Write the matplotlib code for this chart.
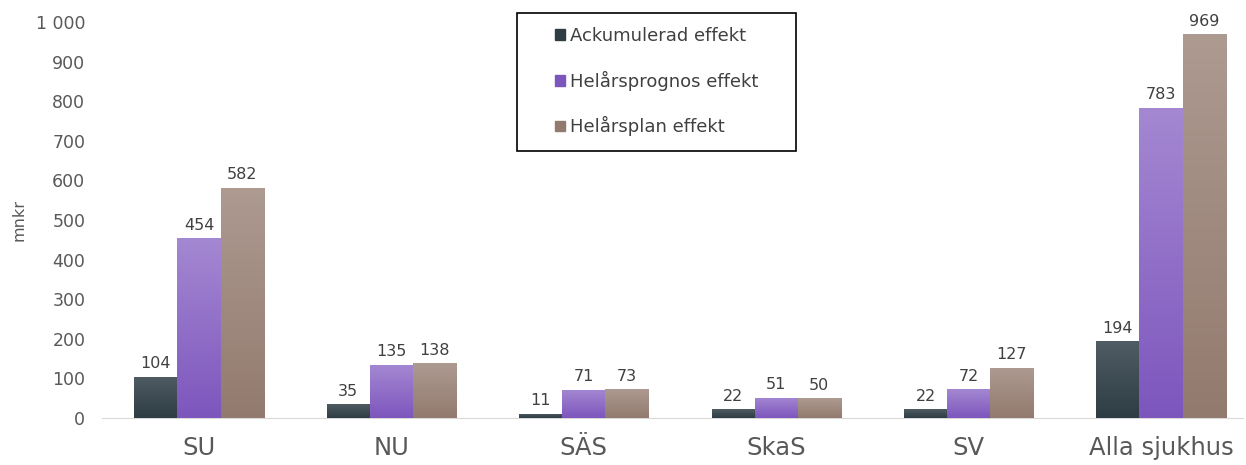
import numpy as np
import matplotlib.pyplot as plt
from matplotlib.colors import LinearSegmentedColormap
from matplotlib.patches import Rectangle

plt.rcParams['font.family'] = 'sans-serif'
plt.rcParams['font.sans-serif'] = ['DejaVu Sans']

sjukhus = ["SU", "NU", "SÄS", "SkaS", "SV", "Alla sjukhus"]
serier = ["Ackumulerad effekt", "Helårsprognos effekt", "Helårsplan effekt"]
ackumulerad = [104, 35, 11, 22, 22, 194]
prognos = [454, 135, 71, 51, 72, 783]
plan = [582, 138, 73, 50, 127, 969]

# (topp, botten) för varje serie
farger = [("#4f5c63", "#2e3c44"), ("#a488d2", "#7d56bd"), ("#ad9a91", "#937a6e")]

fig = plt.figure(figsize=(12.46, 4.65), dpi=100)
ax = fig.add_axes([102 / 1246, 47 / 465, 1141 / 1246, 396 / 465])

x = np.arange(len(sjukhus))
bredd = 0.224
grad = np.linspace(1, 0, 256).reshape(-1, 1)

for i, (namn, varden) in enumerate(zip(serier, [ackumulerad, prognos, plan])):
    pos = x + (i - 1) * bredd
    cmap = LinearSegmentedColormap.from_list(namn, [farger[i][1], farger[i][0]])
    staplar = ax.bar(pos, varden, bredd, color=farger[i][1], label=namn, zorder=2)
    for s, v in zip(staplar, varden):
        x0, w = s.get_x(), s.get_width()
        im = ax.imshow(grad, cmap=cmap, extent=[x0, x0 + w, 0, v], aspect="auto",
                       origin="upper", zorder=3, vmin=0, vmax=1)
        im.set_clip_path(s)
        ax.text(x0 + w / 2, v + 14, f"{v}", ha="center", va="bottom",
                fontsize=11.5, color="#404040", zorder=4)

ax.set_xlim(-0.504, 5.426)
ax.set_ylim(0, 1000)
ax.set_yticks(range(0, 1001, 100))
ax.set_yticklabels(["0"] + [f"{v}" for v in range(100, 1000, 100)] + ["1 000"])
ax.set_xticks(x)
ax.set_xticklabels(sjukhus, fontsize=17.5, color="#595959")
ax.tick_params(axis="y", length=0, labelsize=12.5, labelcolor="#595959", pad=12)
ax.tick_params(axis="x", length=0, pad=13)
for side in ["top", "right", "left"]:
    ax.spines[side].set_visible(False)
ax.spines["bottom"].set_color("#d9d9d9")
ax.set_ylabel("mnkr", fontsize=11.5, color="#595959", labelpad=7)

# legendram
fig.patches.append(Rectangle((517 / 1246, 1 - 151 / 465), 279 / 1246, 138 / 465,
                             transform=fig.transFigure, fill=False,
                             edgecolor="#000000", linewidth=1.2))
leg = ax.legend(loc="upper left", bbox_to_anchor=(555 / 1246, 1 - 27 / 465),
                bbox_transform=fig.transFigure, fontsize=13, frameon=False,
                labelspacing=1.42, borderpad=0,
                handlelength=0.55, handleheight=0.55, handletextpad=0.3,
                borderaxespad=0)
for t in leg.get_texts():
    t.set_color("#404040")
for h, c in zip(leg.legend_handles, farger):
    h.set_color(c[1])

fig.savefig("out.png", dpi=100)
